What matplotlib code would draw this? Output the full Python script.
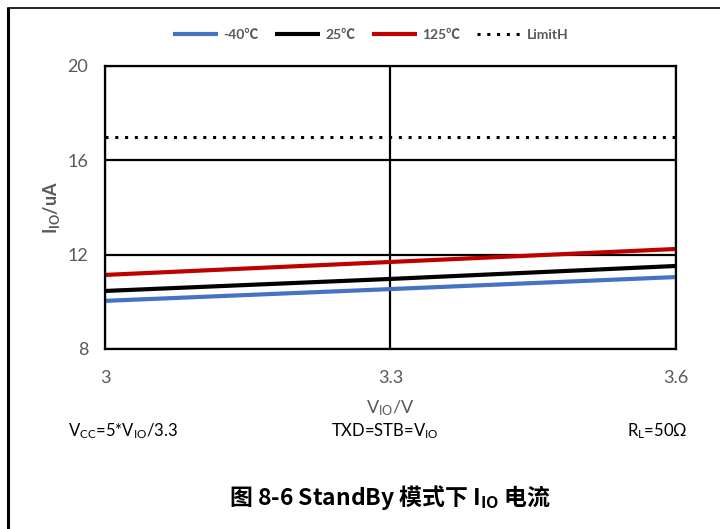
import numpy as np
import matplotlib.pyplot as plt
from matplotlib.lines import Line2D

plt.rcParams['font.family'] = ['Lato', 'Noto Sans CJK SC', 'DejaVu Sans']
plt.rcParams['mathtext.default'] = 'regular'

# data
vio = [3.0, 3.3, 3.6]
i_m40 = [10.04, 10.54, 11.05]
i_25 = [10.46, 10.97, 11.52]
i_125 = [11.14, 11.69, 12.24]
limit_h = [17.0, 17.0, 17.0]
yticks = [8, 12, 16, 20]
xticks = [3, 3.3, 3.6]

fig = plt.figure(figsize=(7.2, 5.29), dpi=100)
ax = fig.add_axes([0.1458, 0.3403, 0.7931, 0.535])

ax.plot(vio, i_m40, color='#4472C4', lw=3, label='-40℃', solid_capstyle='butt')
ax.plot(vio, i_25, color='black', lw=3, label='25℃', solid_capstyle='butt')
ax.plot(vio, i_125, color='#C00000', lw=3, label='125℃', solid_capstyle='butt')
ax.plot(vio, limit_h, color='black', lw=2.2, ls=(0, (1, 2.2)), label='LimitH')

ax.set_xlim(3, 3.6)
ax.set_ylim(8, 20)
ax.set_xticks(xticks)
ax.set_xticklabels(['3', '3.3', '3.6'])
ax.set_yticks(yticks)
ax.grid(True, color='black', lw=1.6)
ax.set_axisbelow(True)
for s in ax.spines.values():
    s.set_color('black')
    s.set_linewidth(1.6)
ax.tick_params(length=0, labelsize=13, labelcolor='#595959')
ax.tick_params(axis='y', pad=12)
ax.tick_params(axis='x', pad=15)

ax.set_ylabel(r'$\mathregular{I_{IO}}$/uA', fontsize=13, color='#595959',
              fontweight='bold', labelpad=4)
ax.set_xlabel(r'$\mathregular{V_{IO}}$/V', fontsize=13, color='#595959', labelpad=9)

leg = fig.legend(loc='center', bbox_to_anchor=(371 / 720, 1 - 35 / 529), ncol=4,
                 frameon=False, fontsize=10, handlelength=3.2, columnspacing=1.2,
                 handletextpad=0.4)
for t in leg.get_texts():
    t.set_color('#595959')
    t.set_fontweight('bold')

fig.text(68 / 720, 1 - 431 / 529, r'$\mathregular{V_{CC}}$=5*$\mathregular{V_{IO}}$/3.3',
         fontsize=12, ha='left', va='center')
fig.text(385 / 720, 1 - 431 / 529, r'TXD=STB=$\mathregular{V_{IO}}$',
         fontsize=12, ha='center', va='center')
fig.text(688 / 720, 1 - 431 / 529, r'$\mathregular{R_L}$=50Ω',
         fontsize=12, ha='right', va='center')

# title: mathtext uses only one font, so give it the CJK family alone
fig.text(390 / 720, 1 - 497 / 529, r'图 8-6 StandBy 模式下 $\mathregular{I_{IO}}$ 电流',
         fontsize=16.5, fontweight='bold', ha='center', va='center',
         family='Noto Sans CJK SC')

# page border lines
fig.add_artist(Line2D([8 / 720, 8 / 720], [0, 1 - 9 / 529], color='black', lw=2.2,
                      transform=fig.transFigure))
fig.add_artist(Line2D([8 / 720, 1], [1 - 8 / 529, 1 - 8 / 529], color='black', lw=1.2,
                      transform=fig.transFigure))

fig.savefig('out.png', dpi=100)
